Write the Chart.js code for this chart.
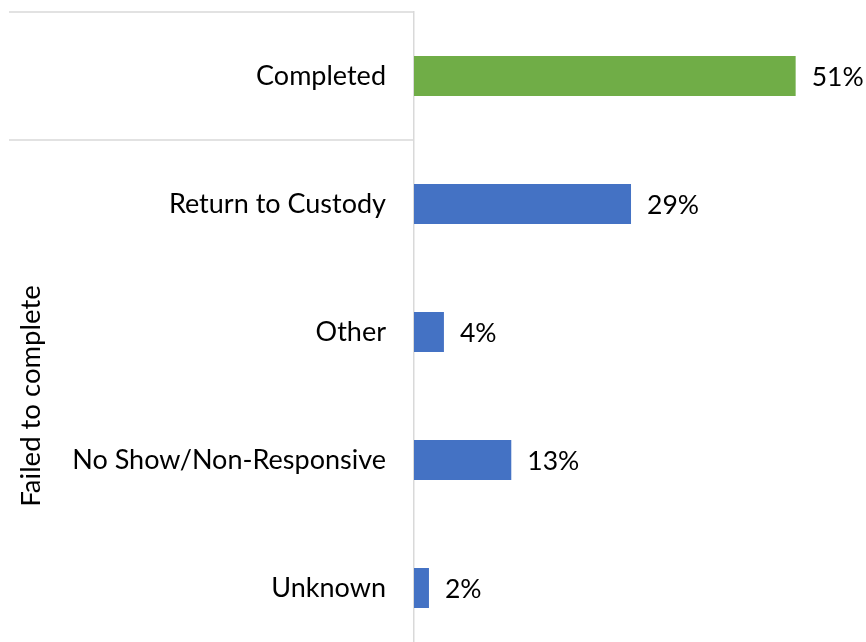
<!DOCTYPE html>
<html>
<head>
<meta charset="utf-8">
<script src="https://cdn.jsdelivr.net/npm/chart.js@4.4.0/dist/chart.umd.min.js"></script>
<style>
  html, body { margin: 0; padding: 0; background: #fff; overflow: hidden; }
  #wrap { width: 866px; height: 652px; position: relative; }
</style>
</head>
<body>
<div id="wrap"><canvas id="outcomeChart"></canvas></div>
<script>
// Program outcomes, percent of participants
const categories = ['Completed', 'Return to Custody', 'Other', 'No Show/Non-Responsive', 'Unknown'];
const outcomeShares = [51, 29, 4, 13, 2];
const groupNames = ['', 'Failed to complete'];
const groupOf = [0, 1, 1, 1, 1];

const FONT = "Lato, 'Open Sans', sans-serif";
const GRID = '#d9d9d9';
const groupColors = ['#70ad47', '#4472c4'];

// Value labels at the end of each bar
const valueLabels = {
  id: 'valueLabels',
  afterDatasetsDraw(chart) {
    const ctx = chart.ctx;
    const meta = chart.getDatasetMeta(0);
    ctx.save();
    ctx.font = '26.5px ' + FONT;
    ctx.fillStyle = '#000';
    ctx.textAlign = 'left';
    ctx.textBaseline = 'middle';
    meta.data.forEach((bar, i) => {
      ctx.fillText(outcomeShares[i] + '%', bar.x + 16, bar.y + 1);
    });
    ctx.restore();
  }
};

// Group dividers and the rotated outer label
const groupAxis = {
  id: 'groupAxis',
  afterDraw(chart) {
    const ctx = chart.ctx;
    const y = chart.scales.y;
    const left = 9;
    const axisX = chart.chartArea.left;
    const half = (y.getPixelForValue(1) - y.getPixelForValue(0)) / 2;

    ctx.save();
    ctx.strokeStyle = GRID;
    ctx.lineWidth = 1.5;

    // line above the first category, then one where the group changes
    ctx.beginPath();
    ctx.moveTo(left, chart.chartArea.top);
    ctx.lineTo(axisX, chart.chartArea.top);
    for (let i = 1; i < categories.length; i++) {
      if (groupOf[i] !== groupOf[i - 1]) {
        const py = y.getPixelForValue(i) - half;
        ctx.moveTo(left, py);
        ctx.lineTo(axisX, py);
      }
    }
    ctx.stroke();

    // rotated group names
    ctx.font = '27.5px ' + FONT;
    ctx.fillStyle = '#000';
    ctx.textAlign = 'center';
    ctx.textBaseline = 'middle';
    groupNames.forEach((name, g) => {
      if (!name) return;
      const idx = groupOf.map((v, i) => v === g ? i : -1).filter(i => i >= 0);
      const mid = (y.getPixelForValue(idx[0]) + y.getPixelForValue(idx[idx.length - 1])) / 2;
      ctx.save();
      ctx.translate(31, mid);
      ctx.rotate(-Math.PI / 2);
      ctx.fillText(name, 0, 0);
      ctx.restore();
    });
    ctx.restore();
  }
};

new Chart(document.getElementById('outcomeChart'), {
  type: 'bar',
  data: {
    labels: categories,
    datasets: [{
      data: outcomeShares,
      backgroundColor: groupOf.map(g => groupColors[g]),
      barPercentage: 0.3125,
      categoryPercentage: 1
    }]
  },
  options: {
    indexAxis: 'y',
    responsive: true,
    maintainAspectRatio: false,
    animation: false,
    layout: { padding: { top: 12, right: 3, bottom: 0, left: 0 } },
    plugins: {
      legend: { display: false },
      tooltip: { enabled: false }
    },
    scales: {
      x: {
        display: false,
        min: 0,
        max: 60
      },
      y: {
        afterFit(scale) {
          scale.width = 414;
          scale.paddingTop = 0;
          scale.paddingBottom = 0;
        },
        grid: { display: false, drawTicks: false },
        border: { display: true, color: GRID, width: 1.5 },
        ticks: {
          color: '#000',
          padding: 28,
          font: { family: FONT, size: 27 }
        }
      }
    }
  },
  plugins: [valueLabels, groupAxis]
});
</script>
</body>
</html>
